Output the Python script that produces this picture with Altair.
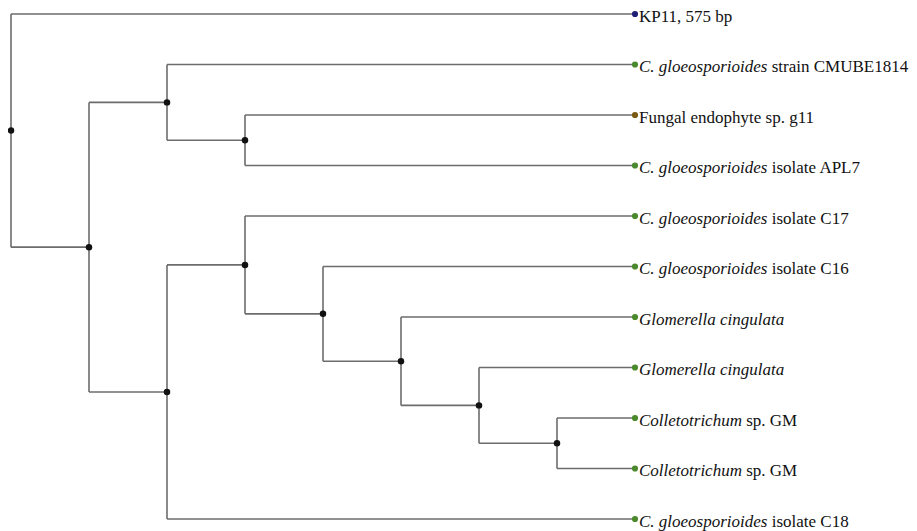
import altair as alt
import pandas as pd

# ---- data ----
leaf_italic = ["", "C. gloeosporioides", "", "C. gloeosporioides", "C. gloeosporioides",
               "C. gloeosporioides", "Glomerella cingulata", "Glomerella cingulata",
               "Colletotrichum", "Colletotrichum", "C. gloeosporioides"]
leaf_roman = ["KP11, 575 bp", "strain CMUBE1814", "Fungal endophyte sp. g11", "isolate APL7",
              "isolate C17", "isolate C16", "", "", "sp. GM", "sp. GM", "isolate C18"]
leaf_group = ["query", "ref", "endophyte", "ref", "ref", "ref", "ref", "ref", "ref", "ref", "ref"]

# internal nodes: name -> children (ints are leaf indices)
tree = {
    "root": [0, "A"],
    "A": ["B", "E"],
    "B": [1, "C"],
    "C": [2, 3],
    "E": ["F", 10],
    "F": [4, "G"],
    "G": [5, "H"],
    "H": [6, "I"],
    "I": [7, "J"],
    "J": [8, 9],
}
LEAF_DEPTH = 8

# ---- layout from the tree structure ----
depth = {}
def set_depth(n, d):
    depth[n] = d
    for c in tree[n]:
        if isinstance(c, str):
            set_depth(c, d + 1)
set_depth("root", 0)

ypos = {}
def get_y(n):
    if isinstance(n, int):
        return float(n)
    if n not in ypos:
        ys = [get_y(c) for c in tree[n]]
        ypos[n] = sum(ys) / len(ys)
    return ypos[n]
get_y("root")

def get_x(n):
    return LEAF_DEPTH if isinstance(n, int) else depth[n]

edges = []
for p, ch in tree.items():
    for c in ch:
        edges.append(dict(x=get_x(p), x2=get_x(p), y=get_y(p), y2=get_y(c)))
        edges.append(dict(x=get_x(p), x2=get_x(c), y=get_y(c), y2=get_y(c)))
edges_df = pd.DataFrame(edges)

nodes_df = pd.DataFrame([dict(x=depth[n], y=ypos[n]) for n in tree])

W, H = 901, 523
UNIT = 78.0
LEFT = 3.0
YSTEP = 50.5
TOP = 6.0
FS = 17

# Times italic advance widths (per 1000 em)
ital_w = {" ": 250, ".": 250, "C": 667, "G": 722, "a": 500, "c": 444, "d": 500, "e": 444,
          "g": 500, "h": 500, "i": 278, "l": 278, "m": 722, "n": 500, "o": 500, "p": 500,
          "r": 389, "s": 389, "t": 278, "u": 500}
def iw(s):
    return sum(ital_w.get(ch, 500) for ch in s) * FS / 1000.0

TXT_GAP = 4.0
rows = []
for i in range(len(leaf_roman)):
    it = leaf_italic[i]
    rm = leaf_roman[i]
    off = TXT_GAP + (iw(it + " ") if it else 0.0)
    rows.append(dict(y=float(i), x=LEAF_DEPTH, xi=LEAF_DEPTH + TXT_GAP / UNIT,
                     xr=LEAF_DEPTH + off / UNIT, it=it, rm=rm, grp=leaf_group[i]))
leaves_df = pd.DataFrame(rows)

xscale = alt.Scale(domain=[-LEFT / UNIT, (W - LEFT) / UNIT], nice=False, zero=False)
yscale = alt.Scale(domain=[(H - TOP) / YSTEP, -TOP / YSTEP], nice=False, zero=False)

line_col = "#6c6c6c"

rules = alt.Chart(edges_df).mark_rule(color=line_col, strokeWidth=1.6).encode(
    x=alt.X("x:Q", scale=xscale, axis=None),
    x2="x2:Q",
    y=alt.Y("y:Q", scale=yscale, axis=None),
    y2="y2:Q",
)

inner = alt.Chart(nodes_df).mark_circle(color="#111111", opacity=1, size=42).encode(
    x=alt.X("x:Q", scale=xscale, axis=None),
    y=alt.Y("y:Q", scale=yscale, axis=None),
)

leafpts = alt.Chart(leaves_df).mark_circle(opacity=1, size=38).encode(
    x=alt.X("x:Q", scale=xscale, axis=None),
    y=alt.Y("y:Q", scale=yscale, axis=None),
    color=alt.Color("grp:N", scale=alt.Scale(domain=["query", "ref", "endophyte"],
                                             range=["#1f1f78", "#4a8a2c", "#7a5a12"]),
                    legend=None),
)

txt_it = alt.Chart(leaves_df).mark_text(
    align="left", baseline="alphabetic", dy=7.5, font="Liberation Serif",
    fontStyle="italic", fontSize=FS, color="#111111"
).encode(
    x=alt.X("xi:Q", scale=xscale, axis=None),
    y=alt.Y("y:Q", scale=yscale, axis=None),
    text="it:N",
)

txt_rm = alt.Chart(leaves_df).mark_text(
    align="left", baseline="alphabetic", dy=7.5, font="Liberation Serif",
    fontSize=FS, color="#111111"
).encode(
    x=alt.X("xr:Q", scale=xscale, axis=None),
    y=alt.Y("y:Q", scale=yscale, axis=None),
    text="rm:N",
)

chart = alt.layer(rules, inner, leafpts, txt_it, txt_rm).properties(
    width=W, height=H, padding=0, autosize=alt.AutoSizeParams(type="none")
).configure_view(strokeWidth=0)

chart.save("out.html", embed_options={"renderer": "svg", "actions": False})
